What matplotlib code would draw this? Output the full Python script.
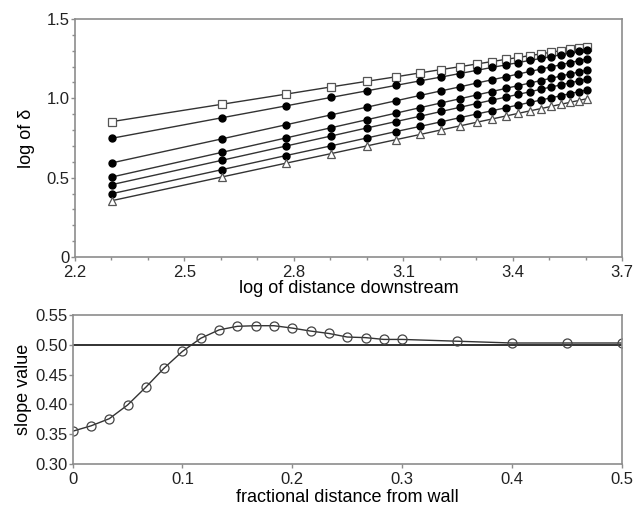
import matplotlib
matplotlib.use("Agg")
import matplotlib.pyplot as plt
from matplotlib.ticker import MultipleLocator

plt.rcParams['font.family'] = ['Liberation Sans', 'DejaVu Sans']

# top panel: log of distance downstream
log_x = [2.301, 2.602, 2.778, 2.903, 3.000, 3.079, 3.146, 3.204, 3.255, 3.301,
         3.342, 3.380, 3.415, 3.447, 3.477, 3.505, 3.531, 3.556, 3.580, 3.602]

d_square = [0.853, 0.962, 1.026, 1.072, 1.107, 1.135, 1.160, 1.181, 1.199, 1.216,
            1.231, 1.245, 1.257, 1.269, 1.280, 1.290, 1.300, 1.309, 1.317, 1.325]
d_c1 = [0.748, 0.877, 0.952, 1.006, 1.047, 1.081, 1.110, 1.134, 1.156, 1.176,
        1.194, 1.210, 1.225, 1.239, 1.251, 1.263, 1.274, 1.285, 1.295, 1.305]
d_c2 = [0.593, 0.744, 0.833, 0.896, 0.944, 0.984, 1.018, 1.047, 1.072, 1.096,
        1.116, 1.135, 1.153, 1.169, 1.184, 1.198, 1.211, 1.224, 1.236, 1.247]
d_c3 = [0.504, 0.659, 0.750, 0.815, 0.865, 0.906, 0.941, 0.971, 0.997, 1.021,
        1.042, 1.062, 1.080, 1.096, 1.112, 1.126, 1.140, 1.153, 1.165, 1.177]
d_c4 = [0.456, 0.609, 0.699, 0.763, 0.813, 0.853, 0.887, 0.917, 0.943, 0.967,
        0.988, 1.007, 1.025, 1.041, 1.057, 1.071, 1.084, 1.097, 1.109, 1.120]
d_c5 = [0.399, 0.550, 0.639, 0.701, 0.750, 0.790, 0.823, 0.852, 0.878, 0.901,
        0.921, 0.940, 0.958, 0.974, 0.989, 1.003, 1.016, 1.029, 1.041, 1.052]
d_tri = [0.355, 0.504, 0.591, 0.652, 0.700, 0.739, 0.772, 0.801, 0.826, 0.849,
         0.869, 0.888, 0.905, 0.921, 0.935, 0.949, 0.962, 0.974, 0.986, 0.997]

# bottom panel: slope vs fractional distance from wall
frac = [0, 0.0167, 0.0333, 0.05, 0.0667, 0.0833, 0.1, 0.1167, 0.1333, 0.15, 0.1667,
        0.1833, 0.2, 0.2167, 0.2333, 0.25, 0.2667, 0.2833, 0.3, 0.35, 0.4, 0.45, 0.5]
slope = [0.355, 0.364, 0.376, 0.399, 0.429, 0.461, 0.489, 0.511, 0.525, 0.531, 0.532,
         0.532, 0.528, 0.523, 0.519, 0.513, 0.512, 0.509, 0.509, 0.506, 0.503, 0.503, 0.503]

frame = '#8c8c8c'
ink = '#333333'

fig = plt.figure(figsize=(6.35, 5.11), dpi=100)
ax1 = fig.add_axes([0.118, 0.497, 0.862, 0.466])
ax2 = fig.add_axes([0.1145, 0.092, 0.8645, 0.2916])

ax1.plot(log_x, d_square, '-', color=ink, lw=1, marker='s', ms=5.5,
         mfc='white', mec='#555555', mew=0.9)
for ys in (d_c1, d_c2, d_c3, d_c4, d_c5):
    ax1.plot(log_x, ys, '-', color=ink, lw=1, marker='o', ms=5,
             mfc='black', mec='black')
ax1.plot(log_x, d_tri, '-', color=ink, lw=1, marker='^', ms=6,
         mfc='white', mec='#555555', mew=0.9)

ax1.set_xlim(2.2, 3.7)
ax1.set_ylim(0, 1.5)
ax1.set_xticks([2.2, 2.5, 2.8, 3.1, 3.4, 3.7])
ax1.set_xticklabels(['2.2', '2.5', '2.8', '3.1', '3.4', '3.7'])
ax1.set_yticks([0, 0.5, 1.0, 1.5])
ax1.set_yticklabels(['0', '0.5', '1.0', '1.5'])
ax1.xaxis.set_minor_locator(MultipleLocator(0.1))
ax1.yaxis.set_minor_locator(MultipleLocator(0.1))
ax1.set_xlabel('log of distance downstream', fontsize=13, labelpad=0)
ax1.set_ylabel('log of δ', fontsize=13, labelpad=8)

ax2.plot(frac, slope, '-', color=ink, lw=1, marker='o', ms=6.5,
         mfc='none', mec='#444444', mew=0.9)
ax2.axhline(0.5, color='#222222', lw=1.3, zorder=1)
ax2.set_xlim(0, 0.5)
ax2.set_ylim(0.30, 0.55)
ax2.set_xticks([0, 0.1, 0.2, 0.3, 0.4, 0.5])
ax2.set_xticklabels(['0', '0.1', '0.2', '0.3', '0.4', '0.5'])
ax2.set_yticks([0.30, 0.35, 0.40, 0.45, 0.50, 0.55])
ax2.set_yticklabels(['0.30', '0.35', '0.40', '0.45', '0.50', '0.55'])
ax2.set_xlabel('fractional distance from wall', fontsize=13, labelpad=1)
ax2.set_ylabel('slope value', fontsize=13, labelpad=2)

for ax in (ax1, ax2):
    for sp in ax.spines.values():
        sp.set_color(frame)
        sp.set_linewidth(1.2)
    ax.tick_params(which='major', length=3, width=1, color=frame,
                   labelsize=12, labelcolor='#222222')
    ax.tick_params(axis='x', which='major', pad=3)
    ax.tick_params(axis='y', which='major', pad=1)
    ax.tick_params(which='minor', length=2, width=1, color=frame)

fig.savefig('out.png', dpi=100)
